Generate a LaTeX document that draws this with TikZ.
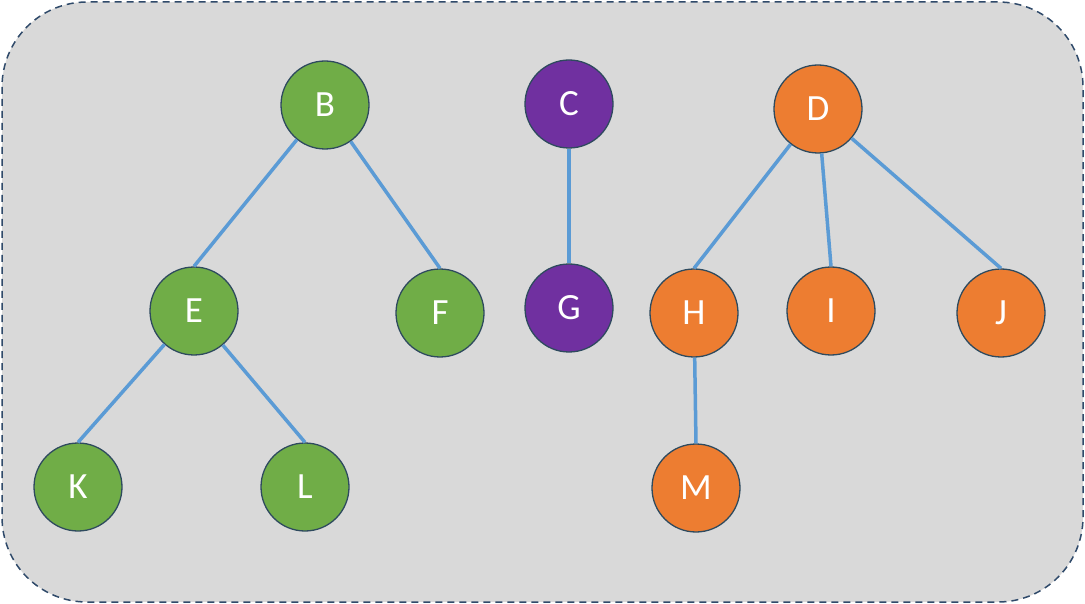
\documentclass[tikz,border=0pt]{standalone}
\usepackage{fontspec}
\setmainfont{Carlito}
\definecolor{bgc}{HTML}{D9D9D9}
\definecolor{framec}{HTML}{2F4A6A}
\definecolor{nodeb}{HTML}{2E4A5E}
\definecolor{greenc}{HTML}{70AD47}
\definecolor{purplec}{HTML}{7030A0}
\definecolor{orangec}{HTML}{ED7D31}
\definecolor{edgec}{HTML}{5B9BD5}
\begin{document}
\begin{tikzpicture}[x=1pt,y=-1pt,
  vtx/.style={circle,draw=nodeb,line width=1.3pt,minimum size=88pt,inner sep=0pt,
    text=white,font=\fontsize{37}{37}\selectfont},
  gv/.style={vtx,fill=greenc},
  pv/.style={vtx,fill=purplec},
  ov/.style={vtx,fill=orangec},
  link/.style={draw=edgec,line width=3.5pt}]
\useasboundingbox (0,0) rectangle (1085,604);
\draw[fill=bgc,draw=framec,line width=1.5pt,dash pattern=on 7pt off 5pt,rounded corners=85pt]
  (2,2) rectangle (1083,602);
\node[gv] (B) at (325,105) {B};
\node[pv] (C) at (569,104) {C};
\node[ov] (D) at (818,109) {D};
\node[gv] (E) at (194,311) {E};
\node[gv] (F) at (440,313) {F};
\node[pv] (G) at (569,308) {G};
\node[ov] (H) at (694,313) {H};
\node[ov] (I) at (831,311) {I};
\node[ov] (J) at (1001,313) {J};
\node[gv] (K) at (78,487) {K};
\node[gv] (L) at (305,487) {L};
\node[ov] (M) at (696,488) {M};
\begin{scope}[on background layer/.try]
\end{scope}
\draw[link] (B) -- (E.north);
\draw[link] (B) -- (F.north);
\draw[link] (C) -- (G.north);
\draw[link] (D) -- (H.north);
\draw[link] (D) -- (I.north);
\draw[link] (D) -- (J.north);
\draw[link] (E) -- (K.north);
\draw[link] (E) -- (L.north);
\draw[link] (H) -- (M.north);
\end{tikzpicture}
\end{document}
